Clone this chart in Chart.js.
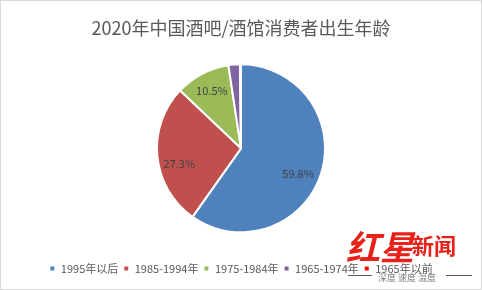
<!DOCTYPE html>
<html><head><meta charset="utf-8">
<script src="https://cdn.jsdelivr.net/npm/chart.js@4"></script>
<style>html,body{margin:0;padding:0;background:#fff;overflow:hidden}#wrap{width:482px;height:290px;position:relative}</style>
</head><body><div id="wrap"><canvas id="c"></canvas></div>
<script>
const categories = ['1995年以后', '1985-1994年', '1975-1984年', '1965-1974年', '1965年以前'];
const shares = [59.8, 27.3, 10.5, 2.2, 0.2];
const shownLabels = ['59.8%', '27.3%', '10.5%', '', ''];
const titleText = '2020年中国酒吧/酒馆消费者出生年龄';
const colors = ['#4F81BD', '#C0504D', '#9BBB59', '#8064A2', '#FF0000'];
const FONT = '"Noto Sans CJK SC", "Noto Sans", sans-serif';

const bgPlugin = {
  id: 'bg',
  beforeDraw(chart) {
    const c = chart.ctx;
    c.save();
    c.fillStyle = '#fff';
    c.fillRect(0, 0, chart.width, chart.height);
    c.strokeStyle = '#d9d9d9';
    c.lineWidth = 1;
    c.strokeRect(0.5, 0.5, chart.width - 1, chart.height - 1);
    c.restore();
  }
};

const labelPlugin = {
  id: 'sliceLabels',
  afterDatasetsDraw(chart, args, opts) {
    const c = chart.ctx;
    const meta = chart.getDatasetMeta(0);
    c.save();
    c.font = '11px ' + FONT;
    c.fillStyle = '#404040';
    c.textAlign = 'center';
    c.textBaseline = 'middle';
    meta.data.forEach((arc, i) => {
      const txt = shownLabels[i];
      if (!txt) return;
      const p = arc.getProps(['x', 'y', 'startAngle', 'endAngle', 'outerRadius'], true);
      const a = (p.startAngle + p.endAngle) / 2;
      const r = p.outerRadius * opts.factor;
      const n = (opts.nudge && opts.nudge[i]) || [0, 0];
      c.fillText(txt, p.x + Math.cos(a) * r + n[0], p.y + Math.sin(a) * r + n[1]);
    });
    c.restore();
  }
};

const watermarkPlugin = {
  id: 'watermark',
  afterDraw(chart) {
    const c = chart.ctx;
    c.save();
    c.fillStyle = '#E8211A';
    c.textBaseline = 'alphabetic';
    c.textAlign = 'left';
    c.font = 'italic bold 34px ' + FONT;
    c.fillText('红星', 346, 260);
    c.font = 'bold 22px ' + FONT;
    c.fillText('新闻', 412, 254);
    c.fillStyle = '#808080';
    c.font = '9px ' + FONT;
    c.fillText('深度 速度 温度', 378, 281);
    c.strokeStyle = '#595959';
    c.lineWidth = 1;
    c.beginPath();
    c.moveTo(348, 275.5); c.lineTo(372, 275.5);
    c.moveTo(446, 275.5); c.lineTo(472, 275.5);
    c.stroke();
    c.restore();
  }
};

new Chart(document.getElementById('c'), {
  type: 'pie',
  data: {
    labels: categories,
    datasets: [{
      data: shares,
      backgroundColor: colors,
      borderColor: '#ffffff',
      borderWidth: 2,
      radius: 84
    }]
  },
  options: {
    responsive: true,
    maintainAspectRatio: false,
    animation: false,
    layout: { padding: { left: 0, right: 0, top: 0, bottom: 6 } },
    plugins: {
      title: {
        display: true,
        text: titleText,
        color: '#595959',
        font: { family: FONT, size: 18, weight: 'normal', lineHeight: 1.2 },
        padding: { top: 17, bottom: 0 }
      },
      legend: {
        position: 'bottom',
        labels: {
          boxWidth: 6,
          boxHeight: 6,
          padding: 5,
          color: '#595959',
          font: { family: FONT, size: 11 }
        }
      },
      tooltip: { enabled: false },
      sliceLabels: { factor: 0.75, nudge: [[-3, 6], [1, 9], [0, -2]] }
    }
  },
  plugins: [bgPlugin, labelPlugin, watermarkPlugin]
});
</script>
</body></html>
